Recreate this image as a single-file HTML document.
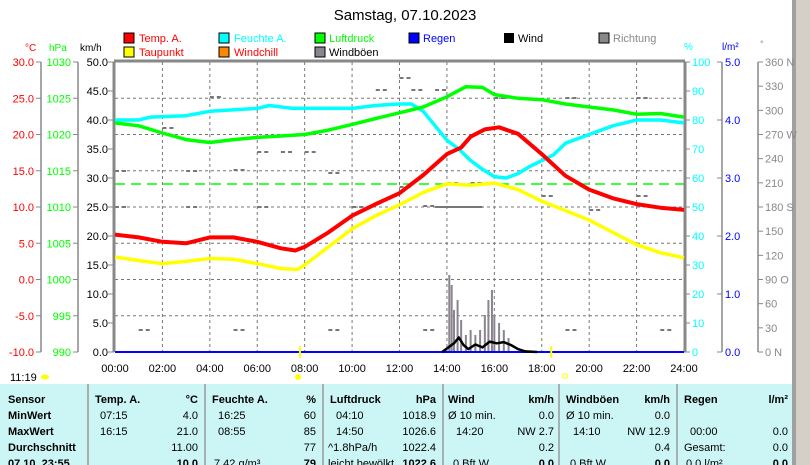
<!DOCTYPE html>
<html><head><meta charset="utf-8"><style>
body{margin:0;width:810px;height:465px;overflow:hidden;background:#fff;font-family:"Liberation Sans",sans-serif;}
svg{position:absolute;left:0;top:0}
</style></head><body>
<svg id="s" width="810" height="465" xmlns="http://www.w3.org/2000/svg" font-family="Liberation Sans, sans-serif">
<rect x="796" y="0" width="14" height="465" fill="#d4d0c8"/>
<rect x="792" y="0" width="4" height="465" fill="#a0a0a0"/>
<text x="405" y="20" font-size="15" text-anchor="middle">Samstag, 07.10.2023</text>
<g font-size="11">
<rect x="124" y="33" width="10" height="10" fill="#f00" stroke="#000"/><text x="139" y="42" fill="#f00">Temp. A.</text>
<rect x="124" y="47" width="10" height="10" fill="#ff0" stroke="#000"/><text x="139" y="56" fill="#f00">Taupunkt</text>
<rect x="219" y="33" width="10" height="10" fill="#0ff" stroke="#000"/><text x="234" y="42" fill="#0ff">Feuchte A.</text>
<rect x="219" y="47" width="10" height="10" fill="#f80" stroke="#000"/><text x="234" y="56" fill="#f00">Windchill</text>
<rect x="315" y="33" width="10" height="10" fill="#0f0" stroke="#000"/><text x="329" y="42" fill="#0f0">Luftdruck</text>
<rect x="315" y="47" width="10" height="10" fill="#8a848f" stroke="#000"/><text x="329" y="56">Windböen</text>
<rect x="409" y="33" width="10" height="10" fill="#00f" stroke="#000"/><text x="423" y="42" fill="#00f">Regen</text>
<rect x="504" y="33" width="10" height="10" fill="#000"/><text x="518" y="42">Wind</text>
<rect x="599" y="33" width="10" height="10" fill="#888" stroke="#000"/><text x="613" y="42" fill="#888">Richtung</text>
<text x="25" y="51" fill="#f00" font-size="10">°C</text><text x="49" y="51" fill="#0f0" font-size="10">hPa</text><text x="80" y="51" font-size="10">km/h</text>
<text x="684" y="50" fill="#0ff" font-size="10">%</text><text x="722" y="50" fill="#00f" font-size="10">l/m²</text><text x="760" y="47" fill="#888" font-size="9">°</text>
</g>
<g id="g"></g>
<text x="10" y="381" font-size="11">11:19</text>
<ellipse cx="45" cy="377" rx="4" ry="2.5" fill="#ff0"/>
<circle cx="298" cy="377" r="3" fill="#ff0"/>
<rect x="563" y="374" width="4" height="4" fill="none" stroke="#ff0"/>
<rect x="0" y="384" width="792" height="81" fill="#ccf6f5"/>
<g stroke="#999" stroke-width="1.5"><line x1="88" y1="384" x2="88" y2="465"/><line x1="205" y1="384" x2="205" y2="465"/><line x1="323" y1="384" x2="323" y2="465"/><line x1="443" y1="384" x2="443" y2="465"/><line x1="559" y1="384" x2="559" y2="465"/><line x1="677" y1="384" x2="677" y2="465"/></g>
<g font-size="11" font-weight="bold">
<text x="8" y="403">Sensor</text><text x="8" y="419">MinWert</text><text x="8" y="435">MaxWert</text><text x="8" y="451">Durchschnitt</text><text x="8" y="467">07.10. 23:55</text>
<text x="95" y="403">Temp. A.</text><text x="198" y="403" text-anchor="end">°C</text>
<text x="212" y="403">Feuchte A.</text><text x="316" y="403" text-anchor="end">%</text>
<text x="330" y="403">Luftdruck</text><text x="436" y="403" text-anchor="end">hPa</text>
<text x="448" y="403">Wind</text><text x="554" y="403" text-anchor="end">km/h</text>
<text x="566" y="403">Windböen</text><text x="670" y="403" text-anchor="end">km/h</text>
<text x="684" y="403">Regen</text><text x="788" y="403" text-anchor="end">l/m²</text>
<text x="198" y="467" text-anchor="end">10.0</text><text x="316" y="467" text-anchor="end">79</text><text x="436" y="467" text-anchor="end">1022.6</text><text x="554" y="467" text-anchor="end">0.0</text><text x="670" y="467" text-anchor="end">0.0</text><text x="788" y="467" text-anchor="end">0.0</text>
</g>
<g font-size="11">
<text x="100" y="419">07:15</text><text x="198" y="419" text-anchor="end">4.0</text>
<text x="100" y="435">16:15</text><text x="198" y="435" text-anchor="end">21.0</text>
<text x="198" y="451" text-anchor="end">11.00</text>
<text x="218" y="419">16:25</text><text x="316" y="419" text-anchor="end">60</text>
<text x="218" y="435">08:55</text><text x="316" y="435" text-anchor="end">85</text>
<text x="316" y="451" text-anchor="end">77</text><text x="214" y="467">7.42 g/m³</text>
<text x="336" y="419">04:10</text><text x="436" y="419" text-anchor="end">1018.9</text>
<text x="336" y="435">14:50</text><text x="436" y="435" text-anchor="end">1026.6</text>
<text x="328" y="451">^1.8hPa/h</text><text x="436" y="451" text-anchor="end">1022.4</text><text x="328" y="467">leicht bewölkt</text>
<text x="448" y="419">Ø 10 min.</text><text x="554" y="419" text-anchor="end">0.0</text>
<text x="456" y="435">14:20</text><text x="554" y="435" text-anchor="end">NW 2.7</text>
<text x="554" y="451" text-anchor="end">0.2</text><text x="453" y="467">0 Bft W</text>
<text x="566" y="419">Ø 10 min.</text><text x="670" y="419" text-anchor="end">0.0</text>
<text x="573" y="435">14:10</text><text x="670" y="435" text-anchor="end">NW 12.9</text>
<text x="670" y="451" text-anchor="end">0.4</text><text x="570" y="467">0 Bft W</text>
<text x="690" y="435">00:00</text><text x="788" y="435" text-anchor="end">0.0</text>
<text x="684" y="451">Gesamt:</text><text x="788" y="451" text-anchor="end">0.0</text><text x="686" y="467">0.0 l/m²</text>
</g>
</svg>
<script>
var g=document.getElementById('g'),h='';
var X0=115,X1=684,Y0=62,Y1=352;
function X(t){return X0+t*(X1-X0)/24}
function L(a,b,c,d,s,w,da){h+='<line x1="'+a+'" y1="'+b+'" x2="'+c+'" y2="'+d+'" stroke="'+s+'" stroke-width="'+(w||1)+'"'+(da?' stroke-dasharray="'+da+'"':'')+'/>';}
function T(x,y,t,c,a){h+='<text x="'+x+'" y="'+y+'" font-size="11" fill="'+c+'" text-anchor="'+(a||'end')+'">'+t+'</text>';}
for(var i=1;i<12;i++)L(X(i*2),Y0,X(i*2),Y1,'#777',1,'3,3');
for(var i=1;i<8;i++){var y=Y0+i*36.25;L(X0,y,X1,y,'#777',1,'3,3');}
L(41,Y0,41,Y1,'#888',1.5);L(78,Y0,78,Y1,'#888',1.5);
for(var i=0;i<=8;i++){var y=Y0+i*36.25;L(36,y,41,y,'#888');L(73,y,78,y,'#888');T(34,y+4,(30-5*i).toFixed(1),'#f00');T(71,y+4,1030-5*i,'#0f0');}
for(var i=0;i<=10;i++){var y=Y0+i*29;L(108,y,114,y,'#888');T(108,y+4,(50-5*i).toFixed(1),'#000');L(684,y,690,y,'#888');T(692,y+4,100-10*i,'#0ff','start');}
L(722,Y0,722,Y1,'#888',1.5);L(758,Y0,758,Y1,'#888',1.5);
for(var i=0;i<=5;i++){var y=Y0+i*58;L(717,y,722,y,'#888');T(725,y+4,(5-i).toFixed(1),'#00f','start');}
var dn={0:' N',3:' O',6:' S',9:' W',12:' N'};
for(var i=0;i<=12;i++){var y=Y0+i*290/12;L(758,y,763,y,'#888');T(765,y+4,(360-30*i)+(dn[12-i]||''),'#888','start');}
for(var i=0;i<=12;i++)T(X(i*2),372,(i*2<10?'0':'')+(i*2)+':00','#000','middle');
var dd=[[12,78],[16,98],[6,152],[8,152],[0,171],[3,171],[5,170],[9,173],[12,187],[0,207],[3,207],[6,207],[10,207],[13,206],[14,183],[15,183],[18,196],[20,210],[22,196],[1,330],[5,330],[9,330],[13,330],[19,330],[23,330],[11,90],[12.5,90],[13.5,90],[19,98],[22,98],[4,97],[2,128],[7,152]];
dd.forEach(function(d){var x=X(d[0]);L(x,d[1],x+12,d[1],'#777',2,'4,3');});
L(X(13.5),207,X(15.5),207,'#777',2);
L(X0,184,X1,184,'#0f0',1.5,'10,6');
L(X0-1,Y0-1,X1+1,Y0-1,'#888',3);L(X0-1,Y0,X0-1,Y1,'#888',3);L(X1+1,Y0,X1+1,Y1,'#888',3);
var gs=[[14.1,275],[14.2,285],[14.3,310],[14.45,300],[14.6,320],[14.8,335],[15,330],[15.2,335],[15.4,330],[15.6,315],[15.75,300],[15.9,290],[16,315],[16.2,323],[16.4,330],[16.6,338]];
gs.forEach(function(d){L(X(d[0]),Y1,X(d[0]),d[1],'#8a848f',2);});
function P(pts,f,c,w){var s=pts.map(function(p){return X(p[0]).toFixed(1)+','+f(p[1]).toFixed(1)}).join(' ');h+='<polyline points="'+s+'" fill="none" stroke="'+c+'" stroke-width="'+w+'" stroke-linejoin="round"/>';}
var tC=function(v){return Y0+(30-v)*7.25},pH=function(v){return Y0+(1030-v)*7.25},hP=function(v){return Y0+(100-v)*2.9},kW=function(v){return Y0+(50-v)*5.8};
L(X0,Y1,X1,Y1,'#00f',2);
P([[13.8,0],[14,0.6],[14.3,1.5],[14.5,2.5],[14.7,1.2],[14.9,0.5],[15.2,1.3],[15.5,0.8],[15.8,1.8],[16.1,1.5],[16.4,1.7],[16.7,1.2],[17,0.5],[17.3,0.1],[17.8,0]],kW,'#000',2.5);
P([[0,80],[1,80],[1.5,81],[3,81.5],[4,83],[6,84],[6.5,85],[7.5,84],[8,84],[9,84],[10,84],[11,85],[12,85.5],[12.5,85.5],[13,83],[13.5,78],[14,73],[14.5,70],[15,66],[15.5,63],[16,60.5],[16.5,60],[17,61.5],[17.5,64],[18,66],[18.5,68],[19,72],[20,75],[21,78],[22,80],[23,80],[24,79]],hP,'#0ff',3.5);
P([[0,1021.6],[1,1021.2],[2,1020.2],[3,1019.3],[4,1018.9],[5,1019.3],[6,1019.6],[7,1019.8],[8,1020],[9,1020.6],[10,1021.4],[11,1022.2],[12,1023],[13,1023.8],[14,1025.2],[14.8,1026.6],[15.5,1026.5],[16,1025.5],[17,1025],[18,1024.8],[19,1024.2],[20,1023.8],[21,1023.4],[22,1022.8],[23,1022.9],[24,1022.4]],pH,'#0f0',3.5);
P([[0,3.1],[1,2.6],[2,2.2],[3,2.5],[4,2.9],[5,2.8],[6,2.2],[7,1.5],[7.7,1.4],[8,2],[9,4.5],[10,7],[11,8.8],[12,10.3],[13,12],[14,13.2],[15,13],[16,13.3],[17,12.4],[18,10.8],[19,9.5],[20,8.2],[21,6.5],[22,4.8],[23,3.7],[24,3]],tC,'#ff0',3.5);
P([[0,6.2],[1,5.8],[2,5.2],[3,5.0],[4,5.8],[5,5.8],[6,5.2],[7,4.3],[7.6,4.0],[8,4.5],[9,6.5],[10,8.8],[11,10.4],[12,11.9],[13,14.4],[14,17.3],[14.6,18.2],[15,19.7],[15.6,20.7],[16.2,21],[17,20.1],[18,17.3],[19,14.3],[20,12.4],[21,11.2],[22,10.4],[23,9.9],[24,9.6]],tC,'#f00',4);
L(X(7.8),346,X(7.8),358,'#ff0',2);L(X(18.4),346,X(18.4),358,'#ff0',2);
g.innerHTML=h;
</script>
</body></html>
